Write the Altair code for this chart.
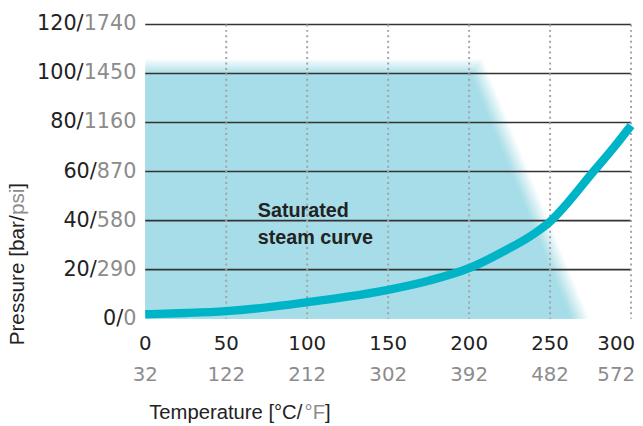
import altair as alt
import pandas as pd

# ---------------- data ----------------
curve_temp_c = [0, 25, 50, 75, 100, 125, 150, 175, 200, 220, 240, 250, 260, 275, 290, 300]
curve_pressure_bar = [1.8, 2.3, 3.1, 4.6, 6.7, 9.0, 11.8, 15.5, 20.6, 27.0, 34.6, 39.6, 46.6, 58.6, 70.4, 78.8]

# shaded operating region: flat top, slanted right edge
region_top_bar = 102.7
region_top_right_c = 204.7
region_bottom_right_c = 268.6

temp_ticks_c = [0, 50, 100, 150, 200, 250, 300]
temp_ticks_f = [32, 122, 212, 302, 392, 482, 572]
pressure_ticks_bar = [0, 20, 40, 60, 80, 100, 120]
pressure_ticks_psi = [0, 290, 580, 870, 1160, 1450, 1740]
vgrid_c = [50, 100, 150, 200, 250, 300]
hgrid_bar = [20, 40, 60, 80, 100, 120]

annotation_text = ["Saturated", "steam curve"]
annotation_temp_c = [69.5]
annotation_pressure_bar = [41.5]

# ---------------- style ----------------
W, H = 492, 298
AREA = "#a6dde8"
CURVE = "#00b4c8"
DARK = "#222222"
GREY = "#8c8c8c"
NUM_FONT = "DejaVu Sans"
TXT_FONT = "Liberation Sans"

xs = alt.Scale(domain=[0, 300], nice=False, zero=False)
ys = alt.Scale(domain=[0, 120], nice=False)

# soft-edged region: stacked halos (outer ones faint) build a blur ramp
K = 12
half_px = 8.5
px_per_bar = H / 120.0
px_per_c = W / 300.0
slope = (region_top_right_c - region_bottom_right_c) / region_top_bar
rows = []
for j in range(1, K + 1):
    e = half_px * (1 - (2 * j - 1) / K)
    a = 1.0 / (K - j + 1)
    pt = region_top_bar + e / px_per_bar
    tb = region_bottom_right_c + 1.15 * e / px_per_c
    tc = tb + slope * pt
    for t, p in [(0, pt), (tc, pt), (tb, 0)]:
        rows.append({"t": t, "p": p, "layer": j, "a": a})
region_df = pd.DataFrame(rows)

area = alt.Chart(region_df).mark_area(color=AREA, interpolate="linear").encode(
    x=alt.X("t:Q", scale=xs, axis=alt.Axis(values=vgrid_c, labels=False, title=None, grid=False,
                                           domainColor=DARK, domainWidth=1.6, tickColor=DARK,
                                           tickWidth=1.6, tickSize=9)),
    y=alt.Y("p:Q", scale=ys, stack=None, axis=None),
    detail="layer:N",
    opacity=alt.Opacity("a:Q", scale=None, legend=None),
)

hlines = alt.Chart(pd.DataFrame({"p": hgrid_bar})).mark_rule(color="#333333", strokeWidth=1.6).encode(
    y=alt.Y("p:Q", scale=ys, axis=None)
)
vlines = alt.Chart(pd.DataFrame({"t": vgrid_c})).mark_rule(
    color="#a3a3a3", strokeWidth=2, strokeDash=[2, 3.5]
).encode(x=alt.X("t:Q", scale=xs, axis=None))

curve = alt.Chart(pd.DataFrame({"t": curve_temp_c, "p": curve_pressure_bar})).mark_line(
    color=CURVE, strokeWidth=8.5, interpolate="monotone", strokeCap="butt"
).encode(x=alt.X("t:Q", scale=xs, axis=None), y=alt.Y("p:Q", scale=ys, axis=None))

note = alt.Chart(pd.DataFrame({"t": annotation_temp_c, "p": annotation_pressure_bar,
                               "txt": [annotation_text]})).mark_text(
    font=TXT_FONT, fontSize=20, fontWeight="bold", align="left", baseline="alphabetic",
    lineHeight=27, color=DARK
).encode(x=alt.X("t:Q", scale=xs, axis=None), y=alt.Y("p:Q", scale=ys, axis=None), text="txt")

# y tick labels: "bar/" dark + "psi" grey
ylab_df = pd.DataFrame({"bar": pressure_ticks_bar, "psi": pressure_ticks_psi})
ylab_psi = alt.Chart(ylab_df).mark_text(
    font=NUM_FONT, fontSize=21, align="right", baseline="middle", color=GREY
).encode(x=alt.value(-9), y=alt.Y("bar:Q", scale=ys, axis=None), text="psi:N")
ylab_bar = alt.Chart(ylab_df).transform_calculate(
    bx="-9 - 13.36*length(toString(datum.psi))", lab="toString(datum.bar) + '/'"
).mark_text(font=NUM_FONT, fontSize=21, align="right", baseline="middle", color=DARK).encode(
    x=alt.X("bx:Q", scale=None, axis=None), y=alt.Y("bar:Q", scale=ys, axis=None), text="lab:N"
)

# x tick labels: °C dark row, °F grey row (last one flush right)
xlab_df = pd.DataFrame({"c": temp_ticks_c, "f": temp_ticks_f})
def xrow(field, ypos, color, last):
    base = alt.Chart(xlab_df)
    if last:
        base = base.transform_filter("datum.c == 300")
        m = base.mark_text(font=NUM_FONT, fontSize=20, align="right", baseline="middle", color=color, dx=4)
    else:
        base = base.transform_filter("datum.c < 300")
        m = base.mark_text(font=NUM_FONT, fontSize=20, align="center", baseline="middle", color=color)
    return m.encode(x=alt.X("c:Q", scale=xs, axis=None), y=alt.value(ypos), text=f"{field}:N")

xlabs = [xrow("c", H + 26, DARK, False), xrow("c", H + 26, DARK, True),
         xrow("f", H + 57, GREY, False), xrow("f", H + 57, GREY, True)]

# axis titles with two colours
def ttl(txt, x, y, color, angle=0):
    kw = dict(font=TXT_FONT, align="left", baseline="alphabetic", color=color)
    if angle:
        kw["angle"] = angle
        kw["fontSize"] = 21
    else:
        kw["fontSize"] = 20.5
    return alt.Chart(pd.DataFrame({"s": [txt]})).mark_text(**kw).encode(
        x=alt.value(x), y=alt.value(y), text="s:N")

titles = [
    ttl("Temperature [°C/", 4, 400, DARK),
    ttl("°F", 161.4, 400, GREY),
    ttl("]", 182.1, 400, DARK),
    ttl("Pressure [bar/", -123, 325, DARK, 270),
    ttl("psi", -123, 193.1, GREY, 270),
    ttl("]", -123, 166.3, DARK, 270),
]

chart = alt.layer(area, hlines, vlines, curve, note, ylab_psi, ylab_bar, *xlabs, *titles).properties(
    width=W, height=H,
    autosize=alt.AutoSizeParams(type="none"),
    padding={"left": 139, "top": 14, "right": 4, "bottom": 106},
).configure_view(stroke=None)

chart.save("out.html", embed_options={"renderer": "svg", "actions": False})
